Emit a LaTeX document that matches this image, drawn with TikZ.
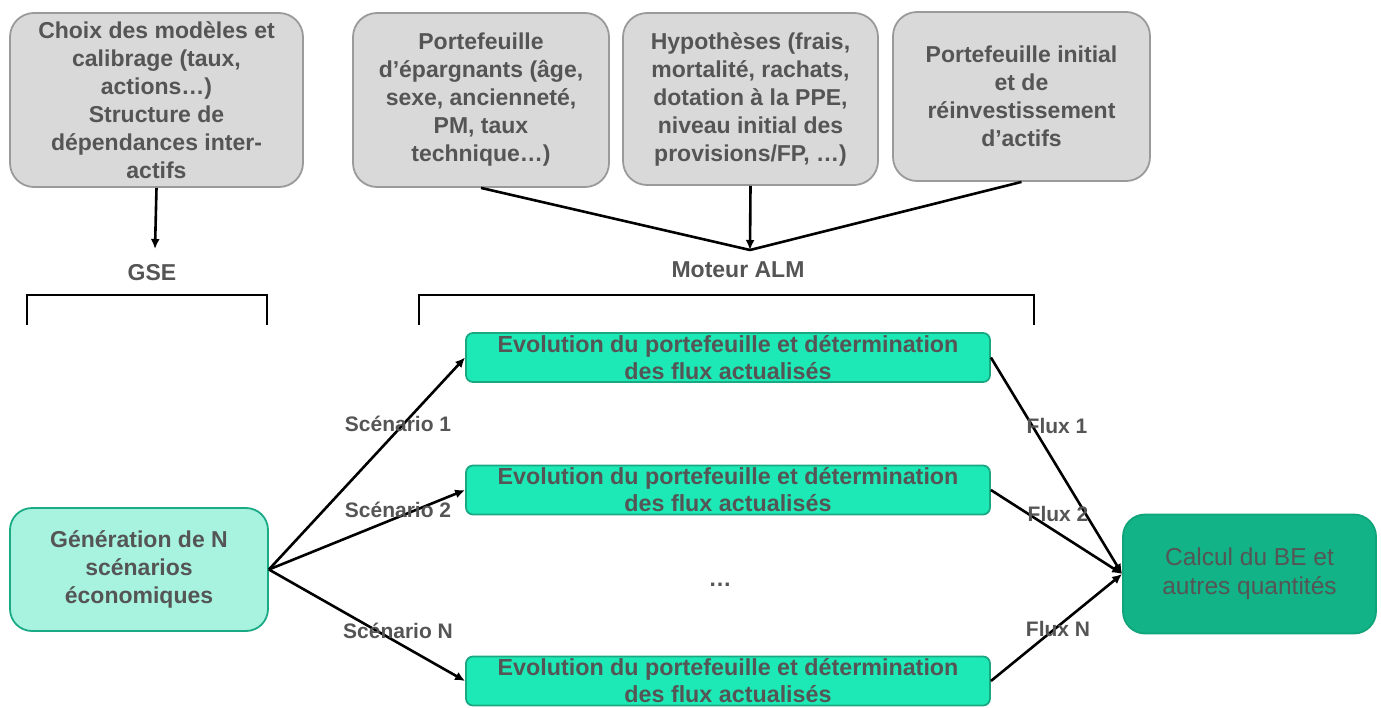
\documentclass[tikz,border=0pt]{standalone}
\usepackage{fontspec}
\setmainfont{Liberation Sans}
\usetikzlibrary{arrows.meta}
\definecolor{txt}{HTML}{555555}
\definecolor{grayfill}{HTML}{D9D9D9}
\definecolor{grayline}{HTML}{9A9A9A}
\definecolor{evofill}{HTML}{1DE9B6}
\definecolor{evoline}{HTML}{19A882}
\definecolor{genfill}{HTML}{A7F3DF}
\definecolor{genline}{HTML}{1AAA85}
\definecolor{calcfill}{HTML}{12B386}
\definecolor{calcline}{HTML}{10A47B}
\tikzset{
  graybox/.style={draw=grayline, fill=grayfill, line width=1.8pt, rounded corners=24pt,
    inner sep=0pt, align=center, text=txt, font=\fontsize{23}{28}\selectfont\bfseries},
  evobox/.style={draw=evoline, fill=evofill, line width=1.8pt, rounded corners=7pt,
    inner sep=0pt, align=center, text=txt, minimum width=524pt, minimum height=49pt,
    font=\fontsize{23.3}{27}\selectfont\bfseries},
  lbl/.style={text=txt, inner sep=0pt, font=\fontsize{21}{25}\selectfont\bfseries},
  conn/.style={line width=2.6pt, black},
  arr/.style={conn, -{Latex[length=10pt,width=9pt]}},
  brk/.style={line width=2.8pt, black}
}
\begin{document}
\begin{tikzpicture}[x=1pt,y=-1pt]
\useasboundingbox (0,0) rectangle (1381,707);
% top boxes
\node[graybox, minimum width=293pt, minimum height=174pt] (A) at (156.5,100)
  {Choix des modèles et\\calibrage (taux,\\actions…)\\Structure de\\dépendances inter-\\actifs};
\node[graybox, minimum width=256pt, minimum height=174pt] (B) at (481,100)
  {Portefeuille\\d’épargnants (âge,\\sexe, ancienneté,\\PM, taux\\technique…)};
\node[graybox, minimum width=255pt, minimum height=172pt] (C) at (750.5,99)
  {Hypothèses (frais,\\mortalité, rachats,\\dotation à la PPE,\\niveau initial des\\provisions/FP, …)};
\node[graybox, minimum width=257pt, minimum height=169pt] (D) at (1021.5,96.5)
  {Portefeuille initial\\et de\\réinvestissement\\d’actifs};
% titles
\coordinate (gseT) at (155,249);
\coordinate (almT) at (750,250);
\node[lbl, font=\fontsize{23}{28}\selectfont\bfseries] (gse) at (152,273) {GSE};
\node[lbl, font=\fontsize{23}{28}\selectfont\bfseries] (alm) at (738,270) {Moteur ALM};
\draw[arr] (A.south) -- (gseT);
\draw[conn] (B.south) -- (almT);
\draw[conn] (D.south) -- (almT);
\draw[arr] (C.south) -- (almT);
% brackets
\draw[brk] (27,325) -- (27,295) -- (267,295) -- (267,325);
\draw[brk] (419,325) -- (419,295) -- (1034,295) -- (1034,325);
% evolution boxes
\node[evobox] (E1) at (728,357.5) {Evolution du portefeuille et détermination\\des flux actualisés};
\node[evobox] (E2) at (728,490) {Evolution du portefeuille et détermination\\des flux actualisés};
\node[evobox] (E3) at (728,681) {Evolution du portefeuille et détermination\\des flux actualisés};
\node[text=txt, font=\fontsize{23}{28}\selectfont\bfseries] (dots) at (720,585) {…};
% generation box
\node[draw=genline, fill=genfill, line width=1.8pt, rounded corners=22pt, inner sep=0pt,
  minimum width=258pt, minimum height=123pt, align=center, text=txt,
  font=\fontsize{23}{28}\selectfont\bfseries] (G) at (139,569.5)
  {Génération de N\\scénarios\\économiques};
% calcul box
\node[draw=calcline, fill=calcfill, line width=1.8pt, rounded corners=22pt, inner sep=0pt,
  minimum width=253pt, minimum height=119pt, align=center, text=txt,
  font=\fontsize{24.5}{29}\selectfont] (R) at (1249.5,574)
  {Calcul du BE et\\autres quantités};
% connectors
\draw[arr] (G.east) -- (E1.west);
\draw[arr] (G.east) -- (E2.west);
\draw[arr] (G.east) -- (E3.west);
\draw[arr] (E1.east) -- (R.west);
\draw[arr] (E2.east) -- (R.west);
\draw[arr] (E3.east) -- (R.west);
% labels
\node[lbl] (s1) at (398,424) {Scénario 1};
\node[lbl] (s2) at (398,510) {Scénario 2};
\node[lbl] (sN) at (398,631) {Scénario N};
\node[lbl] (f1) at (1057,426) {Flux 1};
\node[lbl] (f2) at (1058,514) {Flux 2};
\node[lbl] (fN) at (1058,629) {Flux N};
\end{tikzpicture}
\end{document}
